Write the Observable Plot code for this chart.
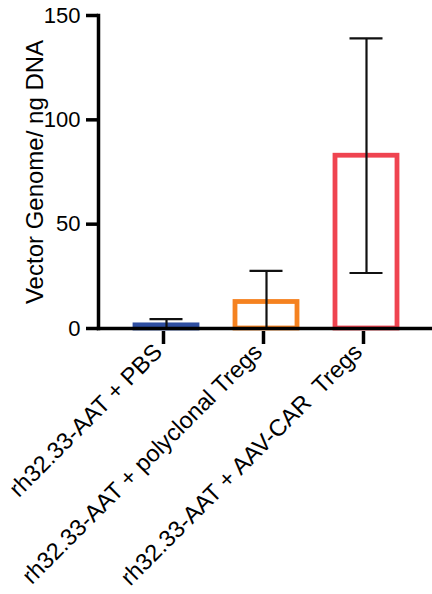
<!DOCTYPE html>
<html>
<head>
<meta charset="utf-8">
<script src="https://cdn.jsdelivr.net/npm/d3@7"></script>
<script src="https://cdn.jsdelivr.net/npm/@observablehq/plot@0.6"></script>
<style>
  html, body { margin: 0; padding: 0; background: #fff; }
  #chart { width: 432px; height: 594px; }
</style>
</head>
<body>
<div id="chart"></div>
<script>
const groups = ["rh32.33-AAT + PBS", "rh32.33-AAT + polyclonal Tregs", "rh32.33-AAT + AAV-CAR  Tregs"];
const means = [1.5, 12.7, 82.8];
const sds = [3.0, 14.9, 56.2];
const colors = ["#2E4EA0", "#F58220", "#EF4450"];
const yTicks = [0, 50, 100, 150];
const yLabel = "Vector Genome/ ng DNA";

const data = groups.map((g, i) => ({
  group: g,
  mean: means[i],
  upper: means[i] + sds[i],
  lower: Math.max(0, means[i] - sds[i]),
  lowerRaw: means[i] - sds[i],
  color: colors[i]
}));

const font = "'Liberation Sans', Arial, Helvetica, sans-serif";

const chart = Plot.plot({
  width: 432,
  height: 594,
  marginTop: 15,
  marginBottom: 266,
  marginLeft: 98,
  marginRight: 0,
  style: { fontFamily: font, fontSize: "22px", color: "#000", background: "#fff" },
  x: { domain: groups, range: [116, 416], padding: 0, label: null },
  y: { domain: [0, 150], label: null },
  marks: [
    Plot.barY(data, {
      x: "group", y: "mean", fill: "white",
      stroke: d => d.color, strokeWidth: 4.8, insetLeft: 19, insetRight: 19
    }),
    Plot.ruleX(data, { x: "group", y1: "lower", y2: "upper", stroke: "#111", strokeWidth: 2.2 }),
    Plot.tickY(data, { x: "group", y: "upper", stroke: "#111", strokeWidth: 2.2, inset: 33.5 }),
    Plot.tickY(data.filter(d => d.lowerRaw > 0), { x: "group", y: "lower", stroke: "#111", strokeWidth: 2.2, inset: 33.5 }),
    Plot.frame({ anchor: "left", stroke: "#000", strokeWidth: 3.5 }),
    Plot.frame({ anchor: "bottom", stroke: "#000", strokeWidth: 3.5 }),
    Plot.axisY({
      ticks: yTicks, tickSize: 12, tickPadding: 6, strokeWidth: 3.5,
      fontSize: 22, label: null, stroke: "#000"
    }),
    Plot.axisX({
      tickSize: 13, tickPadding: 9, strokeWidth: 3.5, tickRotate: -45,
      textAnchor: "end", lineAnchor: "bottom", dx: -3, dy: 3,
      fontSize: 23.5, label: null, stroke: "#000"
    }),
    Plot.text([yLabel], {
      frameAnchor: "left", rotate: -90, dx: -63, fontSize: 24,
      textAnchor: "middle", lineAnchor: "middle", fill: "#000"
    })
  ]
});

document.getElementById("chart").appendChild(chart);
</script>
</body>
</html>
